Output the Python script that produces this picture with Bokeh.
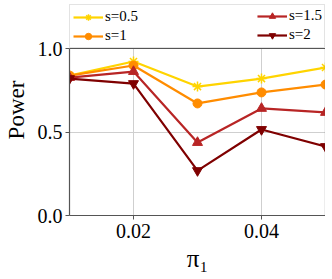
from bokeh.plotting import figure
from bokeh.models import Legend, LegendItem, FixedTicker, Range1d, LinearAxis, Span
from bokeh.embed import file_html
from bokeh.resources import INLINE

pi1 = [0.01, 0.02, 0.03, 0.04, 0.05]
power_s05 = [0.838, 0.922, 0.772, 0.820, 0.886]
power_s1 = [0.838, 0.898, 0.671, 0.737, 0.784]
power_s15 = [0.826, 0.862, 0.437, 0.641, 0.617]
power_s2 = [0.820, 0.790, 0.269, 0.515, 0.413]
series_labels = ["s=0.5", "s=1", "s=1.5", "s=2"]
x_ticks = [0.02, 0.04]
y_ticks = [0.0, 0.5, 1.0]

colors = ["#FFD400", "#FF8C00", "#B82525", "#7F0000"]
markers = ["asterisk", "circle", "triangle", "inverted_triangle"]
msizes = [10, 9, 10, 10]

PLOT_H = 167          # pixels between y=0 and y=1
TOP_PAD = 44          # pixels above y=1 reserved for the legend
FRAME_W = 256
Y_TOP = y_ticks[-1] + TOP_PAD / PLOT_H * (y_ticks[-1] - y_ticks[0])
DARK = "#555555"
SERIF = "Liberation Serif"

p = figure(frame_width=FRAME_W, frame_height=PLOT_H + TOP_PAD,
           x_range=Range1d(0.01, 0.05), y_range=Range1d(y_ticks[0], Y_TOP),
           output_backend="svg", toolbar_location=None,
           min_border_top=4, min_border_right=0, min_border_left=64, min_border_bottom=0)

p.outline_line_color = None
p.background_fill_color = "white"
p.border_fill_color = "white"

for ax in (p.xaxis[0], p.yaxis[0]):
    ax.axis_line_color = DARK
    ax.axis_line_width = 1.2
    ax.major_tick_line_color = DARK
    ax.major_tick_in = 0
    ax.major_tick_out = 4
    ax.minor_tick_line_color = None
    ax.major_label_text_font = SERIF
    ax.major_label_text_font_size = "20px"
    ax.major_label_text_color = "black"
    ax.axis_label_text_font = SERIF
    ax.axis_label_text_font_style = "normal"
    ax.axis_label_text_color = "black"

p.yaxis.bounds = (y_ticks[0], y_ticks[-1])
p.xaxis.ticker = FixedTicker(ticks=x_ticks)
p.yaxis.ticker = FixedTicker(ticks=y_ticks)
p.xaxis.major_label_overrides = {0.02: "0.02", 0.04: "0.04"}
p.yaxis.major_label_overrides = {0.0: "0.0", 0.5: "0.5", 1.0: "1.0"}
p.xaxis.axis_label = "π₁"
p.yaxis.axis_label = "Power"
p.xaxis.axis_label_text_font_size = "25px"
p.yaxis.axis_label_text_font_size = "23px"
p.xaxis.major_label_standoff = 4
p.yaxis.major_label_standoff = 3
p.xaxis.axis_label_standoff = 4
p.yaxis.axis_label_standoff = 6

# right border of the plotting box
rax = LinearAxis(bounds=(y_ticks[0], y_ticks[-1]), ticker=FixedTicker(ticks=[]),
                 major_label_text_font_size="0px", major_tick_line_color=None,
                 minor_tick_line_color=None, axis_line_color=DARK, axis_line_width=1.2,
                 major_label_standoff=0)
p.add_layout(rax, "right")
# top border of the plotting box
p.add_layout(Span(location=y_ticks[-1], dimension="width", line_color=DARK, line_width=1.2))

# grid
p.xgrid.visible = False
p.ygrid.ticker = FixedTicker(ticks=y_ticks)
p.ygrid.grid_line_color = "#cfcfcf"
p.ygrid.grid_line_width = 1
p.segment(x0=x_ticks, y0=[y_ticks[0]] * len(x_ticks), x1=x_ticks,
          y1=[y_ticks[-1]] * len(x_ticks), line_color="#cfcfcf", line_width=1, level="underlay")

all_series = [power_s05, power_s1, power_s15, power_s2]
items = []
for ys, lab, col, mk, ms in zip(all_series, series_labels, colors, markers, msizes):
    r1 = p.line(pi1, ys, line_color=col, line_width=2.2)
    if mk == "asterisk":
        r2 = p.scatter(pi1, ys, marker=mk, size=ms, line_color=col, line_width=1.5)
    else:
        r2 = p.scatter(pi1, ys, marker=mk, size=ms, fill_color=col, line_color=col)
    items.append(LegendItem(label=lab, renderers=[r1, r2]))

def make_legend(its, loc, border):
    lg = Legend(items=its, location=loc, orientation="vertical",
                glyph_width=30, glyph_height=16, label_standoff=2,
                label_text_font=SERIF, label_text_font_size="15px",
                label_height=16, spacing=2, padding=3, margin=0,
                label_text_color="black")
    if border:
        lg.border_line_color = "#c8c8c8"
        lg.border_line_width = 1
        lg.background_fill_color = "white"
        lg.background_fill_alpha = 1.0
        lg.label_width = FRAME_W - 2 * 3 - 30 - 2 - 2
    else:
        lg.border_line_alpha = 0
        lg.background_fill_alpha = 0
    return lg

leg1 = make_legend([items[0], items[1]], "top_left", True)
leg2 = make_legend([items[2], items[3]], "top_right", False)
p.add_layout(leg1, "center")
p.add_layout(leg2, "center")

open("out.html", "w").write(file_html(p, INLINE))
